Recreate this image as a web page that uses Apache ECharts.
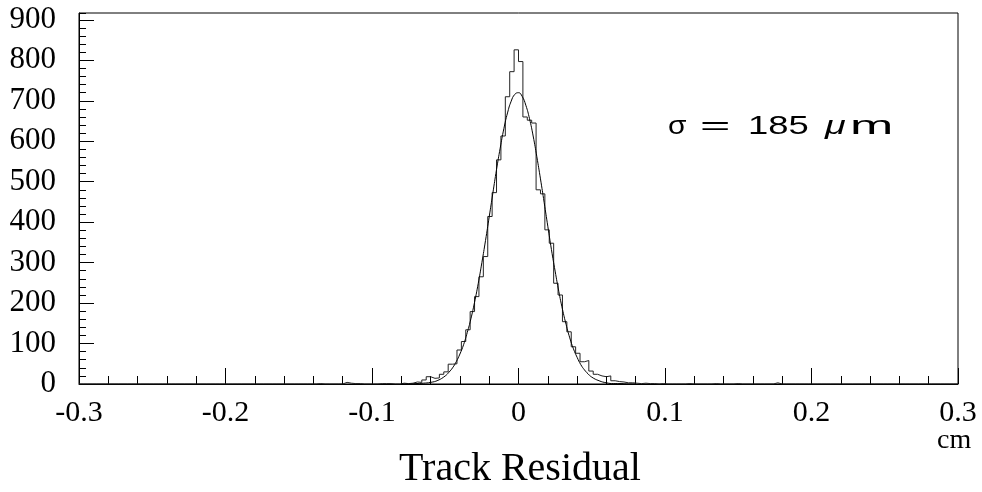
<!DOCTYPE html>
<html>
<head>
<meta charset="utf-8">
<script src="https://cdn.jsdelivr.net/npm/echarts@6/dist/echarts.min.js"></script>
<style>
html,body{margin:0;padding:0;background:#fff;}
#chart{width:982px;height:492px;}
</style>
</head>
<body>
<div id="chart"></div>
<script>
// Histogram: 200 bins of 0.003 cm from -0.3 to 0.3
var histStart = -0.3;
var binWidth = 0.003;
var binCounts = [
  0,0,0,0,0,0,0,0,0,0,0,0,0,0,0,0,0,0,0,0,
  0,0,0,0,0,0,0,0,0,0,0,0,0,0,0,0,0,0,0,0,
  0,0,0,0,0,0,0,0,0,0,0,0,0,0,1,0,0,0,0,0,
  4,2,1,1,0,0,0,0,1,1,1,0,0,2,1,2,5,4,10,18,
  14,15,24,30,49,50,84,105,134,179,216,265,315,414,473,554,613,710,772,826,
  797,660,652,645,480,470,381,348,249,220,154,129,92,76,55,58,32,24,20,18,
  20,8,6,5,3,3,2,1,2,1,1,0,1,0,0,0,0,0,1,0,
  0,0,0,0,1,0,0,0,0,1,0,0,0,0,0,0,0,0,3,0,
  0,0,0,0,0,0,0,0,0,0,0,0,0,0,0,0,0,0,0,0,
  0,0,0,0,0,0,0,0,0,0,0,0,0,0,0,0,0,0,0,0
];
// Gaussian fit curve
var fitX = [-0.08,-0.075,-0.07,-0.065,-0.06,-0.055,-0.05,-0.0475,-0.045,-0.0425,-0.04,-0.0375,-0.035,-0.0325,-0.03,-0.0275,-0.025,-0.0225,-0.02,-0.0175,-0.015,-0.0125,-0.01,-0.0075,-0.005,-0.0025,0,0.0025,0.005,0.0075,0.01,0.0125,0.015,0.0175,0.02,0.0225,0.025,0.0275,0.03,0.0325,0.035,0.0375,0.04,0.0425,0.045,0.0475,0.05,0.055,0.06,0.065,0.07,0.075,0.08];
var fitY = [0,0,1,2,4,9,20,29,40,55,74,97,127,161,202,248,300,355,413,472,530,583,631,670,699,716,720,711,689,656,613,562,507,449,390,332,279,229,185,147,114,87,66,48,35,25,17,8,3,1,1,0,0];
var xTicks = {min: -0.3, max: 0.3, interval: 0.1};
var yTicks = {min: 0, max: 917, interval: 100, minor: 20};
var sigmaParts = ['σ', '=', '185', 'μ', 'm'];
var xUnit = 'cm';
var xTitle = 'Track Residual';

var histData = [];
for (var i = 0; i < binCounts.length; i++) {
  histData.push([histStart + i * binWidth, binCounts[i]]);
}
histData.push([histStart + binCounts.length * binWidth, binCounts[binCounts.length - 1]]);
var fitData = fitX.map(function (x, k) { return [x, fitY[k]]; });

var chart = echarts.init(document.getElementById('chart'), null, {renderer: 'canvas'});
var serif = 'Liberation Serif';
var sans = 'Liberation Sans';
function txt(x, y, s, size, family, sx, extra) {
  var st = {text: s, fontSize: size, fontFamily: family, fill: '#000', align: 'left', verticalAlign: 'middle', textAlign: 'left', textVerticalAlign: 'middle'};
  if (extra) { for (var k in extra) st[k] = extra[k]; }
  return {type: 'text', x: x, y: y, scaleX: sx || 1, style: st};
}
chart.setOption({
  animation: false,
  backgroundColor: '#fff',
  grid: {left: 79, right: 24, top: 13, bottom: 108, show: true, borderColor: '#000', borderWidth: 1, backgroundColor: 'transparent', outerBoundsMode: 'none', containLabel: false},
  xAxis: [{
    type: 'value', min: xTicks.min, max: xTicks.max, interval: xTicks.interval,
    position: 'bottom',
    axisLine: {show: true, onZero: false, lineStyle: {color: '#000', width: 1}},
    axisTick: {show: true, inside: true, length: 16, lineStyle: {color: '#000', width: 1}},
    minorTick: {show: true, splitNumber: 5, length: 8, lineStyle: {color: '#000', width: 1}},
    axisLabel: {show: true, margin: 14, fontSize: 30, fontFamily: serif, color: '#000',
      formatter: function (v) { return String(Math.round(v * 10) / 10); }},
    splitLine: {show: false}, minorSplitLine: {show: false}
  }],
  yAxis: [{
    type: 'value', min: yTicks.min, max: yTicks.max, interval: yTicks.interval,
    position: 'left',
    axisLine: {show: true, onZero: false, lineStyle: {color: '#000', width: 1}},
    axisTick: {show: true, inside: true, length: 15, lineStyle: {color: '#000', width: 1}},
    axisLabel: {show: true, margin: 23, fontSize: 31, fontFamily: serif, color: '#000', showMaxLabel: false,
      padding: [5, 0, 0, 0],
      formatter: function (v) { return (v % 100 === 0) ? String(v) : ''; }},
    splitLine: {show: false}
  }, {
    type: 'value', min: yTicks.min, max: yTicks.max, interval: yTicks.minor,
    position: 'left',
    axisLine: {show: false, onZero: false},
    axisTick: {show: true, inside: true, length: 7, lineStyle: {color: '#000', width: 1}},
    axisLabel: {show: false},
    splitLine: {show: false}
  }],
  series: [{
    type: 'line', data: histData, step: 'end', showSymbol: false, symbol: 'none',
    lineStyle: {color: '#222', width: 1}, clip: true, silent: true, z: 3
  }, {
    type: 'line', data: fitData, smooth: true, showSymbol: false, symbol: 'none',
    lineStyle: {color: '#000', width: 1}, clip: true, silent: true, z: 4
  }],
  graphic: [
    txt(668, 127, sigmaParts[0], 26, sans, 1.15),
    txt(700, 127, sigmaParts[1], 26, sans, 2.0),
    txt(748, 127, sigmaParts[2], 26, sans, 1.4),
    txt(825, 127, sigmaParts[3], 26, sans, 1.45, {fontStyle: 'italic'}),
    txt(850, 127, sigmaParts[4], 26, sans, 2.0),
    txt(937, 441, xUnit, 28, serif, 1),
    {type: 'text', x: 520, y: 469, style: {text: xTitle, fontSize: 40, fontFamily: serif, fill: '#000', align: 'center', verticalAlign: 'middle', textAlign: 'center', textVerticalAlign: 'middle'}}
  ]
});
</script>
</body>
</html>
